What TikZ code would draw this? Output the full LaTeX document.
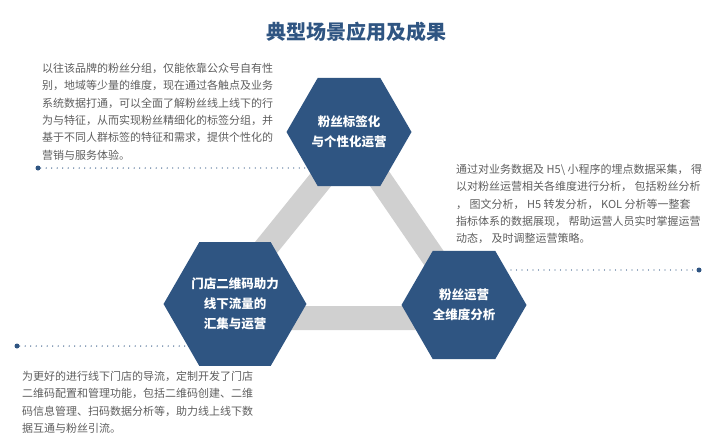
\documentclass[tikz,border=0pt]{standalone}
\usepackage{fontspec}
\newfontfamily\cjk{Noto Sans CJK SC}
\usetikzlibrary{shapes.geometric}

\definecolor{hexblue}{HTML}{2F5582}
\definecolor{bandgray}{HTML}{D0D0D0}
\definecolor{bodygray}{HTML}{5E5E5E}

\tikzset{
  hexa/.style={regular polygon, regular polygon sides=6, minimum size=125pt,
    inner sep=0pt, fill=hexblue, text=white, align=center,
    font=\cjk\bfseries\fontsize{12.5}{20}\selectfont},
  para/.style={inner sep=0pt, anchor=north west, align=left, text=bodygray,
    font=\cjk\fontsize{11}{17.3}\selectfont},
  dotline/.style={hexblue, line width=1.4pt, line cap=round, dash pattern=on 0pt off 5.5pt},
  enddot/.style={circle, fill=hexblue, inner sep=0pt, minimum size=5pt},
}

\begin{document}
\begin{tikzpicture}[x=1pt,y=-1pt]
\useasboundingbox (0,0) rectangle (711,447);

%% title
\node[text=hexblue, font=\cjk\bfseries\fontsize{20}{24}\selectfont] (title) at (356,32) {典型场景应用及成果};

%% gray band
\coordinate (cTop) at (353,140);
\coordinate (cLeft) at (209,318);
\coordinate (cRight) at (475,318);
\draw[bandgray, line width=24pt] (cTop) -- (cLeft) -- (cRight) -- cycle;

%% dotted leaders
\node[enddot] (dotTag) at (38,168) {};
\coordinate (endTag) at (320,168);
\draw[dotline] (dotTag) -- (endTag);
\node[enddot] (dotData) at (699,270) {};
\coordinate (endData) at (500,270);
\draw[dotline] (endData) -- (dotData);
\node[enddot] (dotStore) at (17,346) {};
\coordinate (endStore) at (210,346);
\draw[dotline] (dotStore) -- (endStore);

%% hexagons
\node[hexa] (hexTag) at (349,132) {粉丝标签化\\与个性化运营};
\node[hexa] (hexStore) at (235,304) {门店二维码助力\\线下流量的\\汇集与运营};
\node[hexa] (hexData) at (464,305) {粉丝运营\\全维度分析};

%% texts
\node[para] (txtTag) at (42,63) {以往该品牌的粉丝分组，仅能依靠公众号自有性\\
别，地域等少量的维度，现在通过各触点及业务\\
系统数据打通，可以全面了解粉丝线上线下的行\\
为与特征，从而实现粉丝精细化的标签分组，并\\
基于不同人群标签的特征和需求，提供个性化的\\
营销与服务体验。};
\node[para] (txtData) at (456,164) {通过对业务数据及 H5\textbackslash\ 小程序的埋点数据采集， 得\\
以对粉丝运营相关各维度进行分析， 包括粉丝分析\\
， 图文分析， H5 转发分析， KOL 分析等一整套\\
指标体系的数据展现， 帮助运营人员实时掌握运营\\
动态， 及时调整运营策略。};
\node[para] (txtStore) at (22,371) {为更好的进行线下门店的导流，定制开发了门店\\
二维码配置和管理功能，包括二维码创建、二维\\
码信息管理、扫码数据分析等，助力线上线下数\\
据互通与粉丝引流。};
\end{tikzpicture}
\end{document}
